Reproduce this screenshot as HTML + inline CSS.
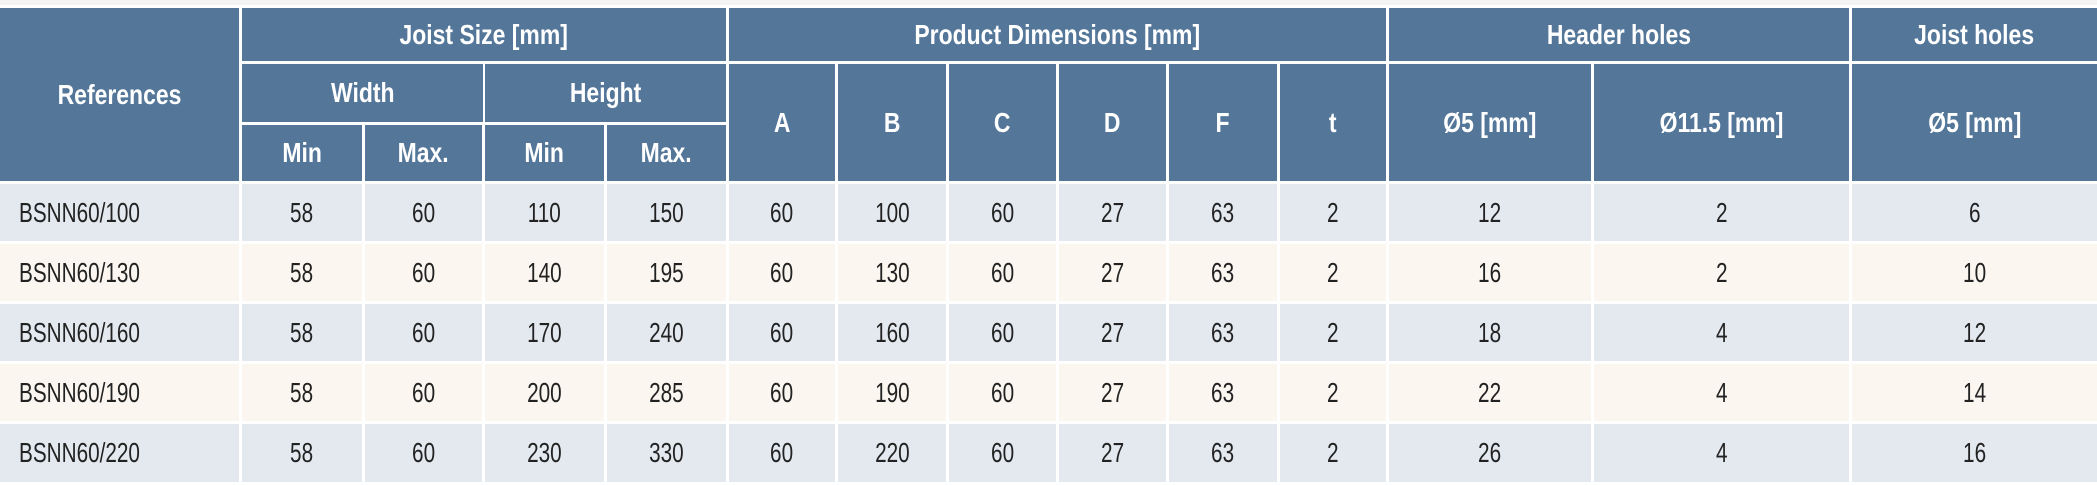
<!DOCTYPE html>
<html><head><meta charset="utf-8"><style>
body{margin:0;width:2097px;height:485px;background:#fff;position:relative;overflow:hidden;font-family:"Liberation Sans Narrow","Liberation Sans",sans-serif}
.s{position:absolute;left:0;top:0;width:2097px;height:5px;background:#f3f3f3}
.c{position:absolute;display:flex;align-items:center;justify-content:center;box-sizing:border-box;white-space:nowrap}
.c span{display:inline-block}
.h{background:#537699;color:#fff;font-weight:bold;font-size:28px}
.h span{transform:scaleX(0.82)}
.a{background:#e4e9f0;color:#222;font-size:28px}
.b{background:#fbf6ef;color:#222;font-size:28px}
.a span,.b span{transform:scaleX(0.74)}
.l{justify-content:flex-start;padding-left:19px}
.l span{transform-origin:left center}
</style></head><body>
<div class="s"></div>
<div class="c h" style="left:0;top:8px;width:239px;height:173px"><span>References</span></div>
<div class="c h" style="left:242px;top:8px;width:484px;height:53px"><span>Joist Size [mm]</span></div>
<div class="c h" style="left:729px;top:8px;width:657px;height:53px"><span>Product Dimensions [mm]</span></div>
<div class="c h" style="left:1389px;top:8px;width:460px;height:53px"><span>Header holes</span></div>
<div class="c h" style="left:1852px;top:8px;width:245px;height:53px"><span>Joist holes</span></div>
<div class="c h" style="left:242px;top:64px;width:241px;height:58px"><span>Width</span></div>
<div class="c h" style="left:485px;top:64px;width:241px;height:58px"><span>Height</span></div>
<div class="c h" style="left:242px;top:125px;width:120px;height:56px"><span>Min</span></div>
<div class="c h" style="left:365px;top:125px;width:117px;height:56px"><span>Max.</span></div>
<div class="c h" style="left:485px;top:125px;width:119px;height:56px"><span>Min</span></div>
<div class="c h" style="left:607px;top:125px;width:119px;height:56px"><span>Max.</span></div>
<div class="c h" style="left:729px;top:64px;width:106px;height:117px"><span>A</span></div>
<div class="c h" style="left:838px;top:64px;width:108px;height:117px"><span>B</span></div>
<div class="c h" style="left:949px;top:64px;width:107px;height:117px"><span>C</span></div>
<div class="c h" style="left:1059px;top:64px;width:107px;height:117px"><span>D</span></div>
<div class="c h" style="left:1169px;top:64px;width:108px;height:117px"><span>F</span></div>
<div class="c h" style="left:1280px;top:64px;width:106px;height:117px"><span>t</span></div>
<div class="c h" style="left:1389px;top:64px;width:202px;height:117px"><span>Ø5 [mm]</span></div>
<div class="c h" style="left:1594px;top:64px;width:255px;height:117px"><span>Ø11.5 [mm]</span></div>
<div class="c h" style="left:1852px;top:64px;width:245px;height:117px"><span>Ø5 [mm]</span></div>

<div class="c a l" style="left:0;top:184px;width:239px;height:57px"><span>BSNN60/100</span></div>
<div class="c a" style="left:242px;top:184px;width:120px;height:57px"><span>58</span></div>
<div class="c a" style="left:365px;top:184px;width:117px;height:57px"><span>60</span></div>
<div class="c a" style="left:485px;top:184px;width:119px;height:57px"><span>110</span></div>
<div class="c a" style="left:607px;top:184px;width:119px;height:57px"><span>150</span></div>
<div class="c a" style="left:729px;top:184px;width:106px;height:57px"><span>60</span></div>
<div class="c a" style="left:838px;top:184px;width:108px;height:57px"><span>100</span></div>
<div class="c a" style="left:949px;top:184px;width:107px;height:57px"><span>60</span></div>
<div class="c a" style="left:1059px;top:184px;width:107px;height:57px"><span>27</span></div>
<div class="c a" style="left:1169px;top:184px;width:108px;height:57px"><span>63</span></div>
<div class="c a" style="left:1280px;top:184px;width:106px;height:57px"><span>2</span></div>
<div class="c a" style="left:1389px;top:184px;width:202px;height:57px"><span>12</span></div>
<div class="c a" style="left:1594px;top:184px;width:255px;height:57px"><span>2</span></div>
<div class="c a" style="left:1852px;top:184px;width:245px;height:57px"><span>6</span></div>

<div class="c b l" style="left:0;top:244px;width:239px;height:57px"><span>BSNN60/130</span></div>
<div class="c b" style="left:242px;top:244px;width:120px;height:57px"><span>58</span></div>
<div class="c b" style="left:365px;top:244px;width:117px;height:57px"><span>60</span></div>
<div class="c b" style="left:485px;top:244px;width:119px;height:57px"><span>140</span></div>
<div class="c b" style="left:607px;top:244px;width:119px;height:57px"><span>195</span></div>
<div class="c b" style="left:729px;top:244px;width:106px;height:57px"><span>60</span></div>
<div class="c b" style="left:838px;top:244px;width:108px;height:57px"><span>130</span></div>
<div class="c b" style="left:949px;top:244px;width:107px;height:57px"><span>60</span></div>
<div class="c b" style="left:1059px;top:244px;width:107px;height:57px"><span>27</span></div>
<div class="c b" style="left:1169px;top:244px;width:108px;height:57px"><span>63</span></div>
<div class="c b" style="left:1280px;top:244px;width:106px;height:57px"><span>2</span></div>
<div class="c b" style="left:1389px;top:244px;width:202px;height:57px"><span>16</span></div>
<div class="c b" style="left:1594px;top:244px;width:255px;height:57px"><span>2</span></div>
<div class="c b" style="left:1852px;top:244px;width:245px;height:57px"><span>10</span></div>

<div class="c a l" style="left:0;top:304px;width:239px;height:57px"><span>BSNN60/160</span></div>
<div class="c a" style="left:242px;top:304px;width:120px;height:57px"><span>58</span></div>
<div class="c a" style="left:365px;top:304px;width:117px;height:57px"><span>60</span></div>
<div class="c a" style="left:485px;top:304px;width:119px;height:57px"><span>170</span></div>
<div class="c a" style="left:607px;top:304px;width:119px;height:57px"><span>240</span></div>
<div class="c a" style="left:729px;top:304px;width:106px;height:57px"><span>60</span></div>
<div class="c a" style="left:838px;top:304px;width:108px;height:57px"><span>160</span></div>
<div class="c a" style="left:949px;top:304px;width:107px;height:57px"><span>60</span></div>
<div class="c a" style="left:1059px;top:304px;width:107px;height:57px"><span>27</span></div>
<div class="c a" style="left:1169px;top:304px;width:108px;height:57px"><span>63</span></div>
<div class="c a" style="left:1280px;top:304px;width:106px;height:57px"><span>2</span></div>
<div class="c a" style="left:1389px;top:304px;width:202px;height:57px"><span>18</span></div>
<div class="c a" style="left:1594px;top:304px;width:255px;height:57px"><span>4</span></div>
<div class="c a" style="left:1852px;top:304px;width:245px;height:57px"><span>12</span></div>

<div class="c b l" style="left:0;top:364px;width:239px;height:57px"><span>BSNN60/190</span></div>
<div class="c b" style="left:242px;top:364px;width:120px;height:57px"><span>58</span></div>
<div class="c b" style="left:365px;top:364px;width:117px;height:57px"><span>60</span></div>
<div class="c b" style="left:485px;top:364px;width:119px;height:57px"><span>200</span></div>
<div class="c b" style="left:607px;top:364px;width:119px;height:57px"><span>285</span></div>
<div class="c b" style="left:729px;top:364px;width:106px;height:57px"><span>60</span></div>
<div class="c b" style="left:838px;top:364px;width:108px;height:57px"><span>190</span></div>
<div class="c b" style="left:949px;top:364px;width:107px;height:57px"><span>60</span></div>
<div class="c b" style="left:1059px;top:364px;width:107px;height:57px"><span>27</span></div>
<div class="c b" style="left:1169px;top:364px;width:108px;height:57px"><span>63</span></div>
<div class="c b" style="left:1280px;top:364px;width:106px;height:57px"><span>2</span></div>
<div class="c b" style="left:1389px;top:364px;width:202px;height:57px"><span>22</span></div>
<div class="c b" style="left:1594px;top:364px;width:255px;height:57px"><span>4</span></div>
<div class="c b" style="left:1852px;top:364px;width:245px;height:57px"><span>14</span></div>

<div class="c a l" style="left:0;top:424px;width:239px;height:58px"><span>BSNN60/220</span></div>
<div class="c a" style="left:242px;top:424px;width:120px;height:58px"><span>58</span></div>
<div class="c a" style="left:365px;top:424px;width:117px;height:58px"><span>60</span></div>
<div class="c a" style="left:485px;top:424px;width:119px;height:58px"><span>230</span></div>
<div class="c a" style="left:607px;top:424px;width:119px;height:58px"><span>330</span></div>
<div class="c a" style="left:729px;top:424px;width:106px;height:58px"><span>60</span></div>
<div class="c a" style="left:838px;top:424px;width:108px;height:58px"><span>220</span></div>
<div class="c a" style="left:949px;top:424px;width:107px;height:58px"><span>60</span></div>
<div class="c a" style="left:1059px;top:424px;width:107px;height:58px"><span>27</span></div>
<div class="c a" style="left:1169px;top:424px;width:108px;height:58px"><span>63</span></div>
<div class="c a" style="left:1280px;top:424px;width:106px;height:58px"><span>2</span></div>
<div class="c a" style="left:1389px;top:424px;width:202px;height:58px"><span>26</span></div>
<div class="c a" style="left:1594px;top:424px;width:255px;height:58px"><span>4</span></div>
<div class="c a" style="left:1852px;top:424px;width:245px;height:58px"><span>16</span></div>
</body></html>
